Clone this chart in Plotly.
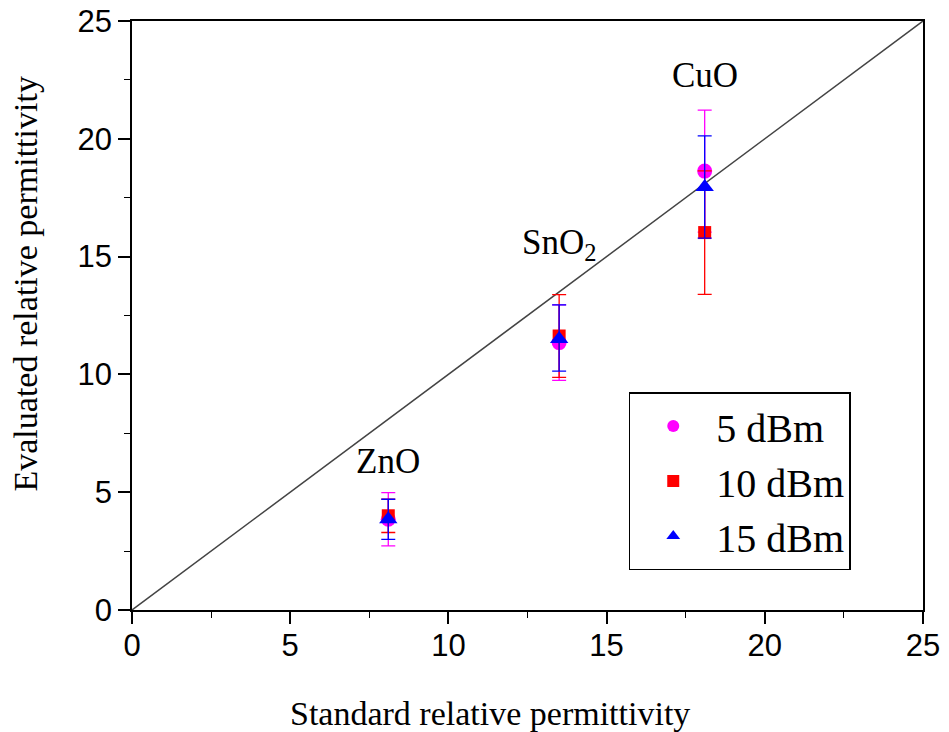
import plotly.graph_objects as go

# Data
materials = ["ZnO", "SnO<sub>2</sub>", "CuO"]
standard = [8.1, 13.5, 18.1]
label_y = [6.3, 15.5, 22.7]

eval_5dBm = [3.85, 11.35, 18.63]
err_5dBm = [1.13, 1.60, 2.59]

eval_10dBm = [4.00, 11.63, 16.02]
err_10dBm = [0.71, 1.76, 2.62]

eval_15dBm = [3.85, 11.50, 17.95]
err_15dBm_plus = [0.85, 1.45, 2.17]
err_15dBm_minus = [0.85, 1.36, 2.17]

diag = [0, 25]

x_title = "Standard relative permittivity"
y_title = "Evaluated relative permittivity"

fig = go.Figure()

fig.add_trace(go.Scatter(x=diag, y=diag, mode="lines",
                         line=dict(color="#444444", width=1.5),
                         showlegend=False, hoverinfo="skip"))

fig.add_trace(go.Scatter(
    x=standard, y=eval_5dBm, mode="markers", name="5 dBm",
    marker=dict(symbol="circle", size=15, color="#FF00FF"),
    error_y=dict(type="data", array=err_5dBm, color="#FF00FF",
                 thickness=1.3, width=7)))

fig.add_trace(go.Scatter(
    x=standard, y=eval_10dBm, mode="markers", name="10 dBm",
    marker=dict(symbol="square", size=13, color="#FF0000"),
    error_y=dict(type="data", array=err_10dBm, color="#FF0000",
                 thickness=1.3, width=7)))

fig.add_trace(go.Scatter(
    x=standard, y=eval_15dBm, mode="markers", name="15 dBm",
    marker=dict(symbol="triangle-up", size=16, color="#0000FF"),
    error_y=dict(type="data", symmetric=False, array=err_15dBm_plus,
                 arrayminus=err_15dBm_minus, color="#0000FF",
                 thickness=1.3, width=7)))

for m, xs, ys in zip(materials, standard, label_y):
    fig.add_annotation(x=xs, y=ys, text=m, showarrow=False,
                       font=dict(family="Liberation Serif", size=35, color="black"))

# axis titles as annotations for exact placement
fig.add_annotation(x=0.4526, y=-0.175, xref="paper", yref="paper", text=x_title,
                   showarrow=False, xanchor="center", yanchor="middle",
                   font=dict(family="Liberation Serif", size=34, color="black"))
fig.add_annotation(x=-0.135, y=0.553, xref="paper", yref="paper", text=y_title,
                   showarrow=False, xanchor="center", yanchor="middle", textangle=-90,
                   font=dict(family="Liberation Serif", size=34, color="black"))

axis_common = dict(
    range=[0, 25], dtick=5, showline=True, linecolor="black", linewidth=1.5,
    mirror=True, ticks="outside", ticklen=12, tickwidth=1.5, tickcolor="black",
    showgrid=False, zeroline=False,
    tickfont=dict(family="Liberation Sans", size=31, color="black"),
    minor=dict(dtick=2.5, ticks="outside", ticklen=6, tickwidth=1.2, tickcolor="black", showgrid=False),
)

fig.update_xaxes(**axis_common, ticklabelstandoff=-5)
fig.update_yaxes(**axis_common)

fig.update_layout(
    width=949, height=732,
    margin=dict(l=132, r=26, t=21, b=122, autoexpand=False),
    plot_bgcolor="white", paper_bgcolor="white",
    legend=dict(x=0.628, y=0.370, xanchor="left", yanchor="top",
                bordercolor="black", borderwidth=1.5, bgcolor="white",
                font=dict(family="Liberation Serif", size=40, color="black"),
                itemsizing="constant", itemwidth=76),
)

fig.write_html("out.html")
